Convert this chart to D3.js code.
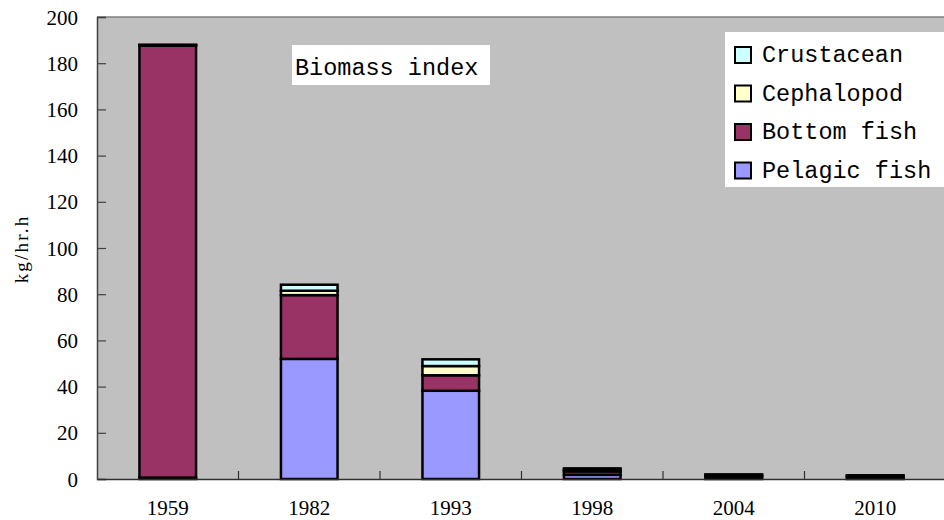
<!DOCTYPE html>
<html><head><meta charset="utf-8">
<script src="https://cdn.jsdelivr.net/npm/d3@7"></script>
<style>html,body{margin:0;padding:0;background:#fff;overflow:hidden}</style>
</head><body><svg id="c" width="944" height="520"></svg>
<script>
const years = ["1959","1982","1993","1998","2004","2010"];
const seriesNames = ["Pelagic fish","Bottom fish","Cephalopod","Crustacean"];
const pelagicFish = [0.6, 52, 38.2, 1.8, 0.8, 0.6];
const bottomFish  = [187, 27.6, 6.7, 1.5, 0.6, 0.5];
const cephalopod  = [0.2, 1.9, 4.0, 0.7, 0.3, 0.3];
const crustacean  = [0.2, 2.6, 2.9, 0.6, 0.3, 0.2];
const yTicks = [0,20,40,60,80,100,120,140,160,180,200];
const colors = ["#9999FF","#993366","#FFFFCC","#CCFFFF"];

const rows = years.map((y,i)=>({year:y,"Pelagic fish":pelagicFish[i],"Bottom fish":bottomFish[i],"Cephalopod":cephalopod[i],"Crustacean":crustacean[i]}));
const svg = d3.select("#c");
const L=97, T=17, B=479, R=97+6*141.5;
const x = d3.scaleBand().domain(years).range([L,R]).paddingInner(0.6).paddingOuter(0.3);
const xb = d3.scaleBand().domain(years).range([L,R]);
const y = d3.scaleLinear().domain([0,200]).range([B,T]);
const color = d3.scaleOrdinal().domain(seriesNames).range(colors);

svg.append("rect").attr("x",L).attr("y",T).attr("width",R-L).attr("height",B-T).attr("fill","#C0C0C0");
svg.append("line").attr("x1",L).attr("x2",R).attr("y1",T).attr("y2",T).attr("stroke","#808080").attr("stroke-width",1.5);

const stack = d3.stack().keys(seriesNames)(rows);
svg.append("g").selectAll("g").data(stack).join("g").attr("fill",d=>color(d.key))
  .selectAll("rect").data(d=>d).join("rect")
  .attr("x",d=>x(d.data.year)).attr("width",x.bandwidth())
  .attr("y",d=>y(d[1])).attr("height",d=>y(d[0])-y(d[1]))
  .attr("stroke","#000").attr("stroke-width",2.5);

// y axis
const ya = svg.append("g").attr("transform",`translate(${L},0)`)
  .call(d3.axisLeft(y).tickValues(yTicks).tickSize(-9).tickPadding(19));
ya.select(".domain").attr("stroke","#404040").attr("stroke-width",1.5);
ya.selectAll(".tick line").attr("stroke","#404040").attr("stroke-width",1.2);
ya.selectAll("text").attr("font-family","Liberation Serif").attr("font-size",21).attr("fill","#000").attr("dy","0.34em");

// x axis
const xa = svg.append("g").attr("transform",`translate(0,${B})`)
  .call(d3.axisBottom(xb).tickSize(0));
xa.select(".domain").attr("stroke","#303030").attr("stroke-width",1.5);
xa.selectAll("text").attr("font-family","Liberation Serif").attr("font-size",21).attr("fill","#000")
  .attr("y",36).attr("dy",0);
svg.append("g").selectAll("line").data(years.slice(1)).join("line")
  .attr("x1",d=>xb(d)).attr("x2",d=>xb(d)).attr("y1",B).attr("y2",B-8)
  .attr("stroke","#303030").attr("stroke-width",1.2);

// y title
svg.append("text").attr("transform","translate(28,249) rotate(-90)").attr("text-anchor","middle")
  .attr("font-family","Liberation Serif").attr("font-size",19).attr("letter-spacing",2.2).text("kg/hr.h");

// title box
svg.append("rect").attr("x",292).attr("y",45).attr("width",198).attr("height",40).attr("fill","#fff");
svg.append("text").attr("x",295).attr("y",75).attr("font-family","Liberation Mono").attr("font-size",23.5).text("Biomass index");

// legend
svg.append("rect").attr("x",725).attr("y",32).attr("width",230).attr("height",155).attr("fill","#fff");
const leg = svg.append("g").selectAll("g").data(seriesNames.slice().reverse()).join("g")
  .attr("transform",(d,i)=>`translate(735,${47+i*38.5})`);
leg.append("rect").attr("width",16).attr("height",16).attr("fill",d=>color(d)).attr("stroke","#000").attr("stroke-width",2);
leg.append("text").attr("x",27).attr("y",15).attr("font-family","Liberation Mono").attr("font-size",23.5).text(d=>d);
</script></body></html>
